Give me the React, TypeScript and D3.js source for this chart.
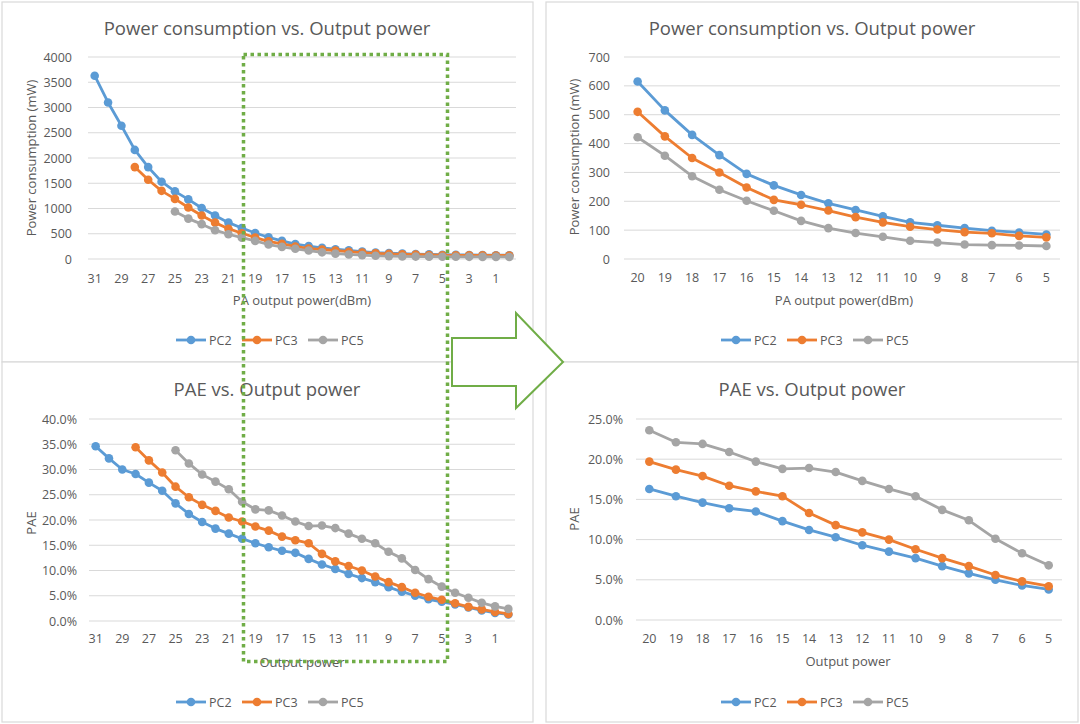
import * as d3 from "d3";

// output power levels (dBm), left-hand charts run 31 -> 0
const levels = [31, 30, 29, 28, 27, 26, 25, 24, 23, 22, 21, 20, 19, 18, 17, 16, 15, 14, 13, 12, 11, 10, 9, 8, 7, 6, 5, 4, 3, 2, 1, 0];
// zoomed range shown on the right-hand charts
const zoomLevels = [20, 19, 18, 17, 16, 15, 14, 13, 12, 11, 10, 9, 8, 7, 6, 5];

const seriesNames = ["PC2", "PC3", "PC5"];
const seriesColors = ["#5B9BD5", "#ED7D31", "#A5A5A5"];

type V = number | null;

// power consumption (mW)
const powerPC2: V[] = [3630, 3100, 2640, 2160, 1820, 1530, 1340, 1180, 1010, 860, 720, 615, 515, 430, 360, 295, 255, 222, 193, 170, 148, 127, 117, 107, 98, 92, 85, 82, 79, 77, 75, 74];
const powerPC3: V[] = [null, null, null, 1820, 1570, 1350, 1190, 1020, 860, 720, 600, 510, 425, 350, 300, 248, 205, 188, 168, 145, 127, 112, 102, 93, 89, 80, 75, 73, 72, 71, 70, 70];
const powerPC5: V[] = [null, null, null, null, null, null, 940, 800, 690, 570, 490, 422, 358, 287, 240, 202, 167, 132, 107, 90, 77, 63, 57, 50, 48, 47, 45, 44, 43, 42, 42, 41];

// power added efficiency
const paePC2: V[] = [0.346, 0.322, 0.300, 0.291, 0.274, 0.258, 0.233, 0.212, 0.196, 0.183, 0.173, 0.163, 0.154, 0.146, 0.139, 0.135, 0.123, 0.112, 0.103, 0.093, 0.085, 0.077, 0.067, 0.058, 0.050, 0.043, 0.038, 0.033, 0.027, 0.021, 0.016, 0.013];
const paePC3: V[] = [null, null, null, 0.344, 0.318, 0.294, 0.266, 0.245, 0.230, 0.218, 0.205, 0.197, 0.187, 0.179, 0.167, 0.160, 0.154, 0.133, 0.118, 0.109, 0.100, 0.088, 0.077, 0.067, 0.056, 0.048, 0.042, 0.035, 0.028, 0.023, 0.018, 0.014];
const paePC5: V[] = [null, null, null, null, null, null, 0.338, 0.312, 0.290, 0.276, 0.261, 0.236, 0.221, 0.219, 0.209, 0.197, 0.188, 0.189, 0.184, 0.173, 0.163, 0.154, 0.137, 0.124, 0.101, 0.083, 0.068, 0.056, 0.046, 0.036, 0.029, 0.024];

const powerSeries = [powerPC2, powerPC3, powerPC5];
const paeSeries = [paePC2, paePC3, paePC5];

const FONT = "'Open Sans', 'Noto Sans', sans-serif";
const TEXT = "#595959";
const GRID = "#D9D9D9";
const GREEN = "#70AD47";

type ChartProps = {
  title: string;
  xTitle: string;
  yTitle: string;
  cats: number[];
  labelEvery: number;
  data: V[][];
  yMax: number;
  yStep: number;
  fmt: (v: number) => string;
  plot: { l: number; r: number; t: number; b: number };
  labelGap: number;
  titlePos: [number, number];
  xTitlePos: [number, number];
  yTitlePos: [number, number];
  xLabelY: number;
  legend: [number, number];
};

function LineChart(p: ChartProps) {
  const x = d3.scalePoint<number>().domain(p.cats).range([p.plot.l, p.plot.r]).padding(0.5);
  const y = d3.scaleLinear().domain([0, p.yMax]).range([p.plot.b, p.plot.t]);
  const ticks = d3.range(0, p.yMax + p.yStep / 2, p.yStep);
  const idx = p.cats.map((c) => levels.indexOf(c));

  return (
    <g fontFamily={FONT}>
      <text x={p.titlePos[0]} y={p.titlePos[1]} textAnchor="middle" dominantBaseline="central" fontSize={18.5} fill={TEXT}>
        {p.title}
      </text>
      {ticks.map((t) => (
        <g key={t}>
          <line x1={p.plot.l} x2={p.plot.r} y1={y(t)} y2={y(t)} stroke={GRID} strokeWidth={1} />
          <text x={p.plot.l - p.labelGap} y={y(t)} textAnchor="end" dominantBaseline="central" fontSize={12.5} fill={TEXT}>
            {p.fmt(t)}
          </text>
        </g>
      ))}
      {p.cats.map((c, i) =>
        i % p.labelEvery === 0 ? (
          <text key={c} x={x(c)} y={p.xLabelY} textAnchor="middle" dominantBaseline="central" fontSize={12.5} fill={TEXT}>
            {c}
          </text>
        ) : null,
      )}
      <text x={p.xTitlePos[0]} y={p.xTitlePos[1]} textAnchor="middle" dominantBaseline="central" fontSize={13} fill={TEXT}>
        {p.xTitle}
      </text>
      <text
        transform={`translate(${p.yTitlePos[0]},${p.yTitlePos[1]}) rotate(-90)`}
        textAnchor="middle"
        dominantBaseline="central"
        fontSize={13}
        fill={TEXT}
      >
        {p.yTitle}
      </text>
      {p.data.map((vals, si) => {
        const pts = p.cats
          .map((c, i) => ({ c, v: vals[idx[i]] }))
          .filter((d) => d.v !== null) as { c: number; v: number }[];
        const line = d3
          .line<{ c: number; v: number }>()
          .x((d) => x(d.c) as number)
          .y((d) => y(d.v));
        return (
          <g key={si}>
            <path d={line(pts) ?? ""} fill="none" stroke={seriesColors[si]} strokeWidth={2.8} strokeLinejoin="round" />
            {pts.map((d) => (
              <circle key={d.c} cx={x(d.c)} cy={y(d.v)} r={4.3} fill={seriesColors[si]} />
            ))}
          </g>
        );
      })}
      {seriesNames.map((n, i) => {
        const lx = p.legend[0] + i * 66;
        const ly = p.legend[1];
        return (
          <g key={n}>
            <line x1={lx} x2={lx + 30} y1={ly} y2={ly} stroke={seriesColors[i]} strokeWidth={2.8} />
            <circle cx={lx + 15} cy={ly} r={4.3} fill={seriesColors[i]} />
            <text x={lx + 33} y={ly} dominantBaseline="central" fontSize={12.5} fill={TEXT}>
              {n}
            </text>
          </g>
        );
      })}
    </g>
  );
}

const pct = d3.format(".1%");
const num = d3.format("d");

export default function App() {
  return (
    <svg
      width={1080}
      height={724}
      viewBox="0 0 1080 724"
      style={{ position: "absolute", left: 0, top: 0, background: "#fff" }}
    >
      <rect x={0} y={0} width={1080} height={724} fill="#fff" />
      {[
        [2, 2, 531, 360],
        [2, 362, 531, 360],
        [546, 2, 532, 360],
        [546, 362, 532, 360],
      ].map(([rx, ry, rw, rh], i) => (
        <rect key={i} x={rx} y={ry} width={rw} height={rh} fill="#fff" stroke={GRID} strokeWidth={1.2} />
      ))}

      <LineChart
        title="Power consumption vs. Output power"
        xTitle="PA output power(dBm)"
        yTitle="Power consumption (mW)"
        cats={levels}
        labelEvery={2}
        data={powerSeries}
        yMax={4000}
        yStep={500}
        fmt={num}
        plot={{ l: 88, r: 516, t: 57, b: 259 }}
        labelGap={16}
        titlePos={[267, 27]}
        xTitlePos={[302, 300]}
        yTitlePos={[31, 158]}
        xLabelY={278}
        legend={[176, 340]}
      />
      <LineChart
        title="PAE vs. Output power"
        xTitle="Output power"
        yTitle="PAE"
        cats={levels}
        labelEvery={2}
        data={paeSeries}
        yMax={0.4}
        yStep={0.05}
        fmt={pct}
        plot={{ l: 89, r: 515, t: 419, b: 621 }}
        labelGap={12}
        titlePos={[267, 388]}
        xTitlePos={[302, 662]}
        yTitlePos={[31, 523]}
        xLabelY={638}
        legend={[176, 702]}
      />
      <LineChart
        title="Power consumption vs. Output power"
        xTitle="PA output power(dBm)"
        yTitle="Power consumption (mW)"
        cats={zoomLevels}
        labelEvery={1}
        data={powerSeries}
        yMax={700}
        yStep={100}
        fmt={num}
        plot={{ l: 624, r: 1060, t: 57, b: 259 }}
        labelGap={14}
        titlePos={[812, 27]}
        xTitlePos={[844, 300]}
        yTitlePos={[574, 157]}
        xLabelY={277}
        legend={[721, 340]}
      />
      <LineChart
        title="PAE vs. Output power"
        xTitle="Output power"
        yTitle="PAE"
        cats={zoomLevels}
        labelEvery={1}
        data={paeSeries}
        yMax={0.25}
        yStep={0.05}
        fmt={pct}
        plot={{ l: 636, r: 1062, t: 419, b: 620 }}
        labelGap={13}
        titlePos={[812, 388]}
        xTitlePos={[848, 661]}
        yTitlePos={[574, 519]}
        xLabelY={638}
        legend={[721, 702]}
      />

      {/* highlighted 20..5 dBm range */}
      <rect
        x={243.5}
        y={54.5}
        width={204}
        height={607}
        fill="none"
        stroke={GREEN}
        strokeWidth={3.5}
        strokeDasharray="3.5 3.5"
      />
      <polygon
        points="452,338 516,338 516,313 563,362 516,408 516,386 452,386"
        fill="#fff"
        stroke={GREEN}
        strokeWidth={2}
      />
    </svg>
  );
}
